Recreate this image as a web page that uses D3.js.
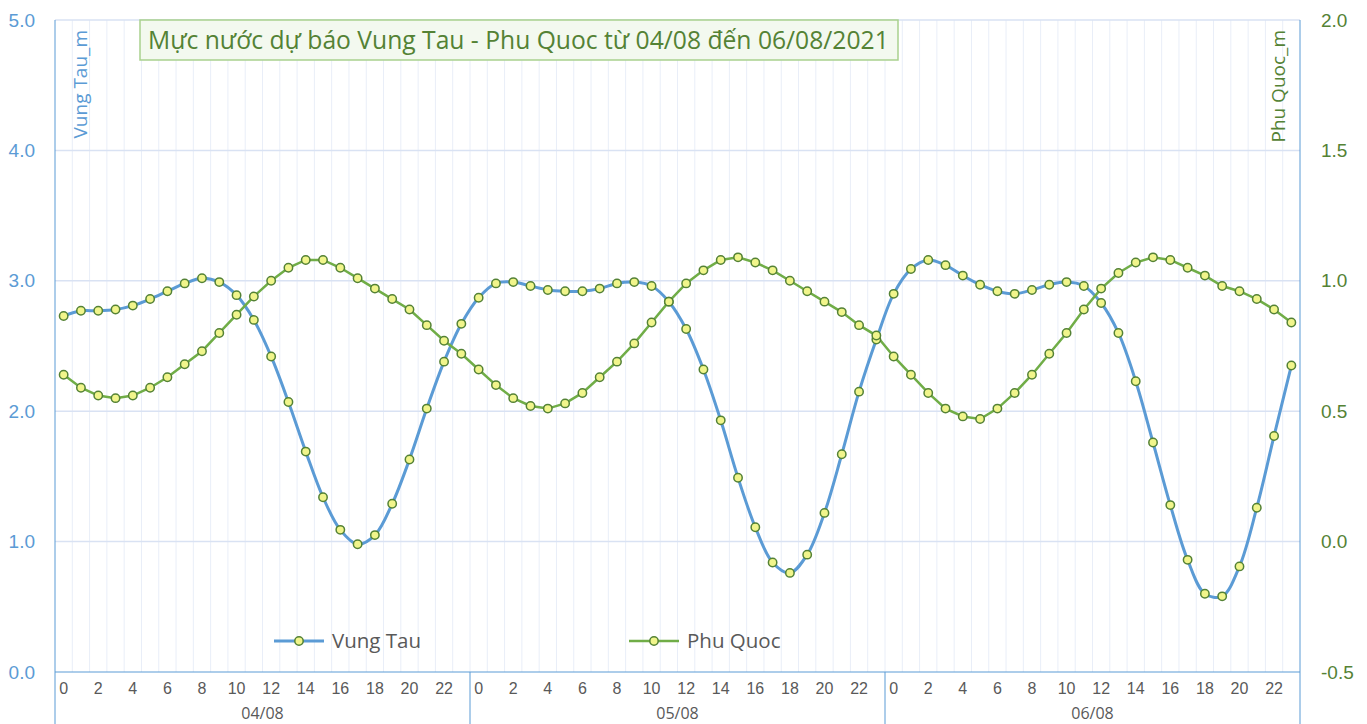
<!DOCTYPE html>
<html>
<head>
<meta charset="utf-8">
<script src="https://cdn.jsdelivr.net/npm/d3@7"></script>
<style>
  body { margin: 0; background: #fff; }
  svg { display: block; font-family: "Open Sans", "Noto Sans", sans-serif; }
</style>
</head>
<body>
<svg id="chart" width="1367" height="724"></svg>
<script>
"use strict";

const days = ["04/08", "05/08", "06/08"];
const hoursPerDay = 24;

// Mực nước Vung Tau (m), mỗi giờ, 04/08 -> 06/08
const vungTau = [
    2.73, 2.77, 2.77, 2.78, 2.81, 2.86, 2.92, 2.98, 3.02, 2.99, 2.89, 2.70,
    2.42, 2.07, 1.69, 1.34, 1.09, 0.98, 1.05, 1.29, 1.63, 2.02, 2.38, 2.67,
    2.87, 2.98, 2.99, 2.96, 2.93, 2.92, 2.92, 2.94, 2.98, 2.99, 2.96, 2.84,
    2.63, 2.32, 1.93, 1.49, 1.11, 0.84, 0.76, 0.90, 1.22, 1.67, 2.15, 2.55,
    2.90, 3.09, 3.16, 3.12, 3.04, 2.97, 2.92, 2.90, 2.93, 2.97, 2.99, 2.96,
    2.83, 2.60, 2.23, 1.76, 1.28, 0.86, 0.60, 0.58, 0.81, 1.26, 1.81, 2.35
];

// Mực nước Phu Quoc (m)
const phuQuoc = [
    0.64, 0.59, 0.56, 0.55, 0.56, 0.59, 0.63, 0.68, 0.73, 0.80, 0.87, 0.94,
    1.00, 1.05, 1.08, 1.08, 1.05, 1.01, 0.97, 0.93, 0.89, 0.83, 0.77, 0.72,
    0.66, 0.60, 0.55, 0.52, 0.51, 0.53, 0.57, 0.63, 0.69, 0.76, 0.84, 0.92,
    0.99, 1.04, 1.08, 1.09, 1.07, 1.04, 1.00, 0.96, 0.92, 0.88, 0.83, 0.79,
    0.71, 0.64, 0.57, 0.51, 0.48, 0.47, 0.51, 0.57, 0.64, 0.72, 0.80, 0.89,
    0.97, 1.03, 1.07, 1.09, 1.08, 1.05, 1.02, 0.98, 0.96, 0.93, 0.89, 0.84
];

const leftTicks = [0, 1, 2, 3, 4, 5];
const rightTicks = [-0.5, 0, 0.5, 1, 1.5, 2];

const title = "Mực nước dự báo Vung Tau - Phu Quoc từ 04/08 đến 06/08/2021";
const leftLabel = "Vung Tau_m";
const rightLabel = "Phu Quoc_m";

const blue = "#5b9bd5";
const green = "#70ad47";
const darkGreen = "#548235";
const gray = "#595959";

const svg = d3.select("#chart");
const m = { left: 55, right: 1300, top: 20, bottom: 672 };

const idx = d3.range(vungTau.length);
const x = d3.scaleBand().domain(idx).range([m.left, m.right]);
const cx = i => x(i) + x.bandwidth() / 2;
const yL = d3.scaleLinear().domain([0, 5]).range([m.bottom, m.top]);
const yR = d3.scaleLinear().domain([-0.5, 2]).range([m.bottom, m.top]);
const fmt = d => d.toFixed(1);

// vertical grid, one per hour boundary
svg.append("g")
    .selectAll("line")
    .data(idx.slice(1))
    .join("line")
    .attr("x1", i => x(i)).attr("x2", i => x(i))
    .attr("y1", m.top).attr("y2", m.bottom)
    .attr("stroke", "#e9eef8")
    .attr("stroke-width", 1);

// horizontal grid
svg.append("g")
    .selectAll("line")
    .data(leftTicks.slice(1))
    .join("line")
    .attr("x1", m.left).attr("x2", m.right)
    .attr("y1", d => yL(d)).attr("y2", d => yL(d))
    .attr("stroke", "#d9e2f3")
    .attr("stroke-width", 1.5);

// axis lines
svg.append("line")
    .attr("x1", m.left).attr("x2", m.left).attr("y1", m.top).attr("y2", 724)
    .attr("stroke", blue).attr("stroke-width", 1);
svg.append("line")
    .attr("x1", m.right).attr("x2", m.right).attr("y1", m.top).attr("y2", 724)
    .attr("stroke", blue).attr("stroke-width", 1);
svg.append("line")
    .attr("x1", m.left).attr("x2", m.right).attr("y1", m.bottom).attr("y2", m.bottom)
    .attr("stroke", blue).attr("stroke-width", 1);

// day separators
svg.append("g")
    .selectAll("line")
    .data(d3.range(1, days.length))
    .join("line")
    .attr("x1", d => x(d * hoursPerDay)).attr("x2", d => x(d * hoursPerDay))
    .attr("y1", m.bottom).attr("y2", 724)
    .attr("stroke", blue).attr("stroke-width", 1);

// hour labels
const xAxis = svg.append("g")
    .attr("transform", `translate(0,${m.bottom})`)
    .call(d3.axisBottom(x)
        .tickValues(idx.filter(i => i % 2 === 0))
        .tickFormat(i => i % hoursPerDay)
        .tickSize(0)
        .tickPadding(11));
xAxis.select(".domain").remove();
xAxis.selectAll("text")
    .attr("fill", gray)
    .style("font-size", "16px");

// day labels
svg.append("g")
    .selectAll("text")
    .data(days)
    .join("text")
    .attr("x", (d, i) => (x(i * hoursPerDay) + x((i + 1) * hoursPerDay - 1) + x.bandwidth()) / 2)
    .attr("y", 719)
    .attr("text-anchor", "middle")
    .attr("fill", gray)
    .style("font-size", "16px")
    .text(d => d);

// left axis
const leftAxis = svg.append("g")
    .attr("transform", `translate(${m.left},0)`)
    .call(d3.axisLeft(yL).tickValues(leftTicks).tickFormat(fmt).tickSize(0).tickPadding(20));
leftAxis.select(".domain").remove();
leftAxis.selectAll("text").attr("fill", blue).style("font-size", "19px");

// right axis
const rightAxis = svg.append("g")
    .attr("transform", `translate(${m.right},0)`)
    .call(d3.axisRight(yR).tickValues(rightTicks).tickFormat(fmt).tickSize(0).tickPadding(21));
rightAxis.select(".domain").remove();
rightAxis.selectAll("text").attr("fill", darkGreen).style("font-size", "19px");

// axis titles
svg.append("text")
    .attr("transform", "translate(87,30) rotate(-90)")
    .attr("text-anchor", "end")
    .attr("fill", blue)
    .style("font-size", "19px")
    .text(leftLabel);
svg.append("text")
    .attr("transform", "translate(1285,30) rotate(-90)")
    .attr("text-anchor", "end")
    .attr("fill", darkGreen)
    .style("font-size", "19px")
    .text(rightLabel);

// lines
const lineVT = d3.line().x((d, i) => cx(i)).y(d => yL(d)).curve(d3.curveCatmullRom.alpha(0.5));
const linePQ = d3.line().x((d, i) => cx(i)).y(d => yR(d));

svg.append("path")
    .datum(vungTau)
    .attr("d", lineVT)
    .attr("fill", "none")
    .attr("stroke", blue)
    .attr("stroke-width", 3);
svg.append("path")
    .datum(phuQuoc)
    .attr("d", linePQ)
    .attr("fill", "none")
    .attr("stroke", green)
    .attr("stroke-width", 2.5);

const markers = (data, y) => svg.append("g")
    .selectAll("circle")
    .data(data)
    .join("circle")
    .attr("cx", (d, i) => cx(i))
    .attr("cy", d => y(d))
    .attr("r", 4.2)
    .attr("fill", "#f1f58b")
    .attr("stroke", darkGreen)
    .attr("stroke-width", 1.5);
markers(vungTau, yL);
markers(phuQuoc, yR);

// legend
const legend = [
    { name: "Vung Tau", color: blue, width: 3, x: 274 },
    { name: "Phu Quoc", color: green, width: 2.5, x: 629 }
];
const lg = svg.append("g").selectAll("g").data(legend).join("g")
    .attr("transform", d => `translate(${d.x},641)`);
lg.append("line")
    .attr("x1", 0).attr("x2", 50)
    .attr("stroke", d => d.color).attr("stroke-width", d => d.width);
lg.append("circle")
    .attr("cx", 25).attr("r", 4.2)
    .attr("fill", "#f1f58b").attr("stroke", darkGreen).attr("stroke-width", 1.5);
lg.append("text")
    .attr("x", 58).attr("y", 7)
    .attr("fill", gray)
    .style("font-size", "20.5px")
    .text(d => d.name);

// title box
const tb = svg.append("g");
tb.append("rect")
    .attr("x", 140).attr("y", 20).attr("width", 758).attr("height", 40)
    .attr("fill", "#f3f9ef")
    .attr("stroke", "#a9d18e")
    .attr("stroke-width", 1.5);
const tt = tb.append("text")
    .attr("x", 148).attr("y", 49)
    .attr("fill", darkGreen)
    .style("font-size", "22px")
    .text(title);
const w = tt.node().getComputedTextLength();
tt.style("font-size", (22 * 741 / w).toFixed(2) + "px");
</script>
</body>
</html>
